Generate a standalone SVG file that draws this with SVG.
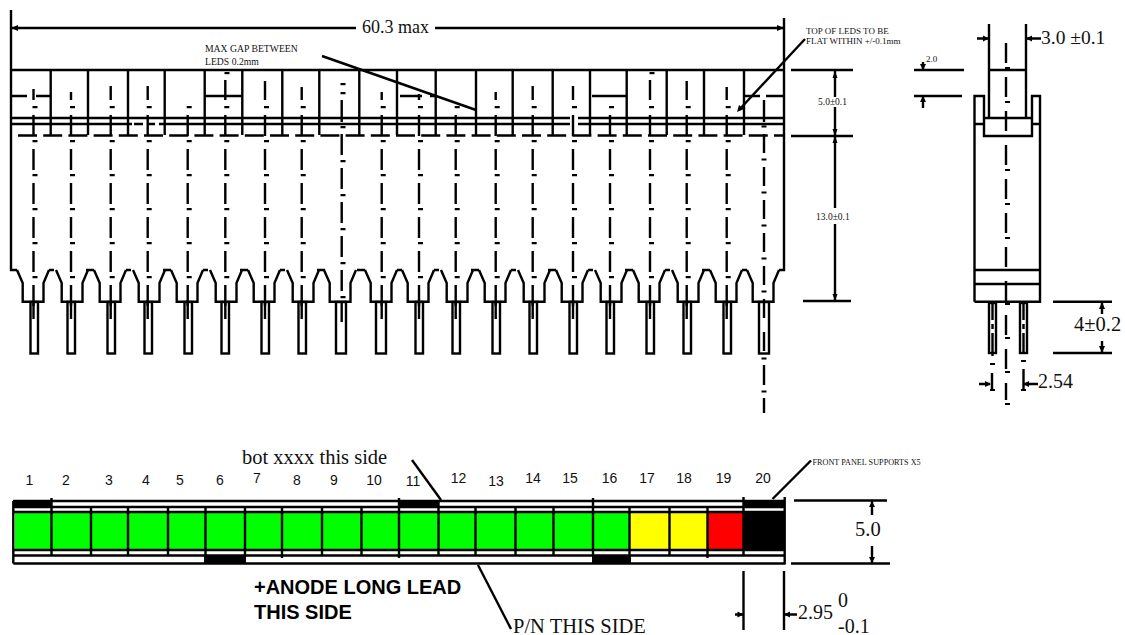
<svg xmlns="http://www.w3.org/2000/svg" width="1125" height="635" viewBox="0 0 1125 635">
<style>
.l{fill:none;stroke:#000;stroke-width:2.4;stroke-linecap:butt;stroke-linejoin:miter}
.cl{fill:none;stroke:#000;stroke-width:2.4}
.dot{fill:none;stroke:#000;stroke-width:5;stroke-dasharray:2.2 31.8}
.s{font-family:"Liberation Serif","Times New Roman",serif;fill:#111}
.a{font-family:"Liberation Sans",Arial,sans-serif;fill:#111;font-size:14px}
.b{font-family:"Liberation Sans",Arial,sans-serif;font-weight:bold;font-size:20px;fill:#000}
.k{fill:#000}
</style>
<defs>
<g id="col"><line class="cl" x1="0" y1="115" x2="0" y2="319" stroke-dasharray="21 13"/><line class="cl" x1="0" y1="302" x2="0" y2="319"/><line class="dot" x1="1.5" x2="1.500" y1="106" y2="280"/></g>
<path id="tooth" class="l" d="M-17 270L-11.3 283V301.700H9.500V283L15 270"/>
<rect id="pin" class="l" x="-3.500" y="302" width="7.500" height="51.500"/>
<rect id="pinw" class="l" x="-5" y="302" width="10" height="51.500"/>
</defs>

<g id="front-view">
<path class="l" d="M11 10V270H17M784 18V270H779M11 70H784M11 118H570M578 118H784M11 124H132M134 124H143M148 124H155M159 124H165M165 124H570M578 124H784"/>
<path class="l" d="M18 135.500H784" stroke-dasharray="19 6.200"/>
<path class="l" d="M50.700 70V135M88 70V135M128 70V135M164.700 70V135M204.700 70V135M242.300 70V135M282.300 70V135M319.300 70V135M359.300 70V135M397 70V135M435.700 70V135M476 70V135M512.700 70V135M552.700 70V135M590 70V135M626.700 70V135M666.700 70V135M704 70V135M744 70V135"/>
<path class="l" d="M11 96H27M36 96H50M205 96H242M592 96H626M744 96H760M766 96H783M400 96H422M430 96H436"/>
<path class="l" d="M49 270H54M86 270H94M126 270H131M163 270H171M203 270H208M240 270H248M280 270H285M317 270H325M357 270H365M397 270H402M434 270H439M471 270H479M511 270H516M548 270H556M588 270H593M625 270H633M665 270H670M702 270H710M742 270H747"/>
<g id="teeth">
<use href="#tooth" x="34"/><use href="#tooth" x="73"/><use href="#tooth" x="111"/><use href="#tooth" x="150"/><use href="#tooth" x="188"/><use href="#tooth" x="227"/><use href="#tooth" x="265"/><use href="#tooth" x="304"/><use href="#tooth" x="341"/><use href="#tooth" x="382"/><use href="#tooth" x="419"/><use href="#tooth" x="458"/><use href="#tooth" x="496"/><use href="#tooth" x="535"/><use href="#tooth" x="573"/><use href="#tooth" x="612"/><use href="#tooth" x="650"/><use href="#tooth" x="689"/><use href="#tooth" x="727"/><use href="#tooth" x="764"/>
</g>
<g id="pins">
<use href="#pin" x="34"/><use href="#pin" x="71"/><use href="#pin" x="111"/><use href="#pin" x="148"/><use href="#pin" x="188"/><use href="#pin" x="225"/><use href="#pin" x="265"/><use href="#pin" x="302"/><use href="#pinw" x="341"/><use href="#pinw" x="381"/><use href="#pin" x="419"/><use href="#pin" x="456"/><use href="#pin" x="496"/><use href="#pin" x="533"/><use href="#pin" x="573"/><use href="#pin" x="610"/><use href="#pin" x="650"/><use href="#pin" x="687"/><use href="#pin" x="727"/><use href="#pinw" x="764"/>
</g>
<g id="centerlines">
<use href="#col" x="33.500"/><use href="#col" x="71"/><use href="#col" x="110.700"/><use href="#col" x="147.700"/><use href="#col" x="187.700"/><use href="#col" x="225.300"/><use href="#col" x="265"/><use href="#col" x="301.700"/><use href="#col" x="381.700"/><use href="#col" x="419"/><use href="#col" x="455.700"/><use href="#col" x="495.700"/><use href="#col" x="532.700"/><use href="#col" x="573"/><use href="#col" x="610"/><use href="#col" x="650"/><use href="#col" x="686.700"/><use href="#col" x="726.700"/>
<path class="cl" d="M33.500 89V100M71 92V100M110.700 86V100M147.700 86V100M225.300 80V100M265 81V100M301.700 87V100M381.700 92V100M419 94V100M495.700 92V100M532.700 86V100M573 86V100M650 80V100M686.700 81V100M726.700 87V100"/>
<path class="cl" d="M341.700 100V122M341.700 134V155M341.700 168V189M341.700 202V223M341.700 236V257M341.700 270V291M341.700 302V322"/>
<line class="dot" x1="343" x2="343" y1="83" y2="85.500"/>
<line class="dot" x1="343" x2="343" y1="92" y2="300"/>
<line class="dot" x1="227" x2="227" y1="72" y2="75"/>
<line class="dot" x1="652" x2="652" y1="72" y2="75"/>
<path class="cl" d="M764 100V122M764 134V153M764 167V186M764 200V219M764 233V252M764 266V285M764 299V318M764 332V351M764 365V385M764 398V413"/>
<path d="M761.500 126.500h5M761.500 159.500h5M761.500 192.500h5M761.500 225.500h5M761.500 258.500h5M761.500 291.500h5M761.500 358.500h5M761.500 391.500h5" stroke="#000" stroke-width="2.200" fill="none"/>
</g>
</g>

<g id="side-view">
<path class="l" d="M989 24V118M1026 24V118M989 70H1026M974.500 301.700V96H984V136H1032V96H1040V301.700H974.500M974.500 124H984M1032 124H1040M984 118H1032M974.500 270H1040M974.500 284H1040"/>
<rect class="l" x="989" y="303" width="7" height="50"/>
<rect class="l" x="1020" y="303" width="7" height="50"/>
<path class="cl" d="M992.500 302V320M992.500 324V329M992.500 333V356M1023.500 302V320M1023.500 324V329M1023.500 333V354"/>
<path class="cl" d="M992 373V390M1023.500 369V390"/>
<path d="M990 364h5M1021 361h5M990 390h5M1021 390h5" stroke="#000" stroke-width="2.200" fill="none"/>
<line class="cl" x1="1006" y1="43" x2="1006" y2="400" stroke-dasharray="20 14"/>
<path d="M1005 68h5M1005 102h5M1005 136h5M1005 170h5M1005 204h5M1005 238h5M1005 270h5M1005 304h5M1005 338h5M1005 372h5M1005 404h5" stroke="#000" stroke-width="2.200" fill="none"/>
</g>

<g id="bottom-view">
<rect x="15" y="513" width="36" height="36" fill="#0f0"/><rect x="52" y="513" width="39" height="36" fill="#0f0"/><rect x="92" y="513" width="36" height="36" fill="#0f0"/><rect x="129" y="513" width="39" height="36" fill="#0f0"/><rect x="169" y="513" width="36" height="36" fill="#0f0"/><rect x="206" y="513" width="39" height="36" fill="#0f0"/><rect x="246" y="513" width="36" height="36" fill="#0f0"/><rect x="283" y="513" width="39" height="36" fill="#0f0"/><rect x="323" y="513" width="38" height="36" fill="#0f0"/><rect x="362" y="513" width="37" height="36" fill="#0f0"/><rect x="400" y="513" width="38" height="36" fill="#0f0"/><rect x="439" y="513" width="36" height="36" fill="#0f0"/><rect x="476" y="513" width="39" height="36" fill="#0f0"/><rect x="516" y="513" width="37" height="36" fill="#0f0"/><rect x="554" y="513" width="39" height="36" fill="#0f0"/><rect x="594" y="513" width="35" height="36" fill="#0f0"/>
<rect x="630" y="513" width="39" height="36" fill="#ff0"/><rect x="670" y="513" width="37" height="36" fill="#ff0"/><rect x="708" y="513" width="35" height="36" fill="#f00"/><rect class="k" x="744" y="511" width="41" height="40"/>
<rect class="k" x="13" y="500" width="38" height="7"/><rect class="k" x="398" y="500" width="41" height="7"/><rect class="k" x="744" y="500" width="41" height="7"/>
<rect class="k" x="204" y="555" width="42" height="8.500"/><rect class="k" x="592" y="555" width="39" height="8.500"/>
<path class="l" d="M13.300 501H785M13.300 507H785M13.300 512H785M13.300 550H785M13.300 555.500H785M13.300 563.500H785M13.300 501V563.500M784.700 497V564.500"/>
<path class="l" d="M51.500 498V555M91 507V555M128 507V555M168 507V555M205.500 507V555M245 507V555M282 507V558M322 507V555M361.500 507V555M399 498V558M438.500 500V555M475.500 507V555M515.500 507V555M553.500 507V555M593 498V555M629.500 507V555M669.500 507V555M707.500 507V558M743.500 497V555"/>
<g id="numbers" class="a">
<text x="29.500" y="485" text-anchor="middle">1</text><text x="66" y="485" text-anchor="middle">2</text><text x="109" y="485" text-anchor="middle">3</text><text x="146" y="485" text-anchor="middle">4</text><text x="180" y="485" text-anchor="middle">5</text><text x="220" y="485" text-anchor="middle">6</text><text x="257" y="483" text-anchor="middle">7</text><text x="297" y="485" text-anchor="middle">8</text><text x="334" y="485" text-anchor="middle">9</text><text x="374" y="485" text-anchor="middle">10</text><text x="413" y="486" text-anchor="middle">11</text><text x="458.500" y="483" text-anchor="middle">12</text><text x="496" y="486" text-anchor="middle">13</text><text x="533" y="483" text-anchor="middle">14</text><text x="570" y="483" text-anchor="middle">15</text><text x="609.500" y="483" text-anchor="middle">16</text><text x="647" y="483" text-anchor="middle">17</text><text x="684" y="483" text-anchor="middle">18</text><text x="723.500" y="483" text-anchor="middle">19</text><text x="763" y="483" text-anchor="middle">20</text>
</g>
</g>

<g id="connectors">
<path class="l" d="M11 28H356M435 28H783"/>
<path d="M11 28l7 -3v6zM784 28l-7 -3v6z"/>
<path class="l" d="M322 56L476 110"/>
<path class="l" d="M805 39L739 110"/><path d="M737 112l2 -7 5 4z"/>
<path class="l" d="M791 70H853M791 136H853M803 301H851"/>
<path class="l" d="M835 71V97M835 107V208M835 224V300"/>
<path d="M835 71l-2.500 7h5zM835 136l-2.500 -7h5zM835 136l-2.500 7h5zM835 301l-2.500 -7h5z"/>
<path class="l" d="M914 70H964M914 96H962M923 62V70M923 96V108"/>
<path d="M923 70l-3 -6h6zM923 96l-3 6h6z"/>
<path class="l" d="M977 38.500H988M1026 38.500H1041"/>
<path d="M989 38.500l-6 -3v6zM1026 38.500l6 -3v6z"/>
<path class="l" d="M1053 301.700H1112M1053 353H1112M1102 303V314M1102 341V353"/>
<path d="M1102 302l-3 7h6zM1102 353l-3 -7h6z"/>
<path class="l" d="M979 384H990M1024 384H1038"/>
<path d="M991 384l-6 -3v6zM1023 384l6 -3v6z"/>
<path class="l" d="M412 460L441 500"/>
<path class="l" d="M478 565L511 629"/>
<path class="l" d="M811 460.500L772.500 499"/>
<path class="l" d="M794 500.500H887M791 563.500H890M872 501V515M872 546V563"/>
<path d="M872 501l-3 6h6zM872 563l-3 -6h6z"/>
<path class="l" d="M743.500 571V630M784 571V630M735 614.500H743M784 614.500H797"/>
<path d="M743.500 614.500l-6 -3v6zM784 614.500l6 -3v6z"/>
</g>

<g id="labels" class="s">
<text x="362" y="33" font-size="18">60.3 max</text>
<text x="205" y="52" font-size="9.700">MAX GAP BETWEEN</text>
<text x="205" y="65" font-size="9.700">LEDS 0.2mm</text>
<text x="806" y="34" font-size="9">TOP OF LEDS TO BE</text>
<text x="806" y="44" font-size="9">FLAT WITHIN +/-0.1mm</text>
<text x="818" y="105" font-size="9.500">5.0±0.1</text>
<text x="816" y="220" font-size="9.500">13.0±0.1</text>
<text x="926" y="62" font-size="9">2.0</text>
<text x="1041" y="44" font-size="19.500">3.0 ±0.1</text>
<text x="1074" y="331" font-size="20.500">4±0.2</text>
<text x="1038" y="388" font-size="20">2.54</text>
<text x="242" y="464" font-size="20.500">bot xxxx this side</text>
<text x="812.500" y="465" font-size="8.200">FRONT PANEL SUPPORTS X5</text>
<text x="855" y="536" font-size="20.500">5.0</text>
<text x="513" y="633" font-size="20.500">P/N THIS SIDE</text>
<text x="798" y="619" font-size="20">2.95</text>
<text x="838" y="607" font-size="20">0</text>
<text x="838" y="633" font-size="20">-0.1</text>
<text class="b" x="254" y="594">+ANODE LONG LEAD</text>
<text class="b" x="254" y="619">THIS SIDE</text>
</g>
</svg>
